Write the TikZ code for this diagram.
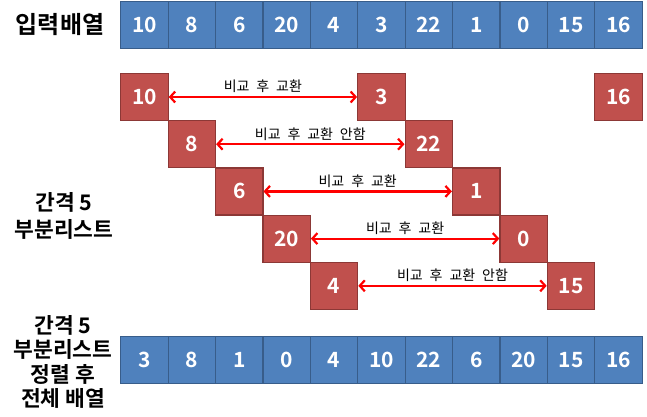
\documentclass[tikz,border=0pt]{standalone}
\usepackage{fontspec}
\setmainfont{Noto Sans CJK KR}[BoldFont={Noto Sans CJK KR Bold}]
\newfontfamily\krsmall[WordSpace=2.2]{Noto Sans CJK KR}
\usetikzlibrary{arrows.meta,positioning}
\definecolor{shellBlue}{RGB}{79,129,189}
\definecolor{shellBlueLine}{RGB}{56,93,138}
\definecolor{shellRed}{RGB}{192,80,77}
\definecolor{shellRedLine}{RGB}{140,56,54}

\begin{document}
\begin{tikzpicture}[
  x=1pt,y=-1pt,
  cell/.style={
    draw=shellBlueLine,
    fill=shellBlue,
    line width=1.2pt,
    minimum width=47.4pt,
    minimum height=47pt,
    inner sep=0pt,
    text=white,
    font=\bfseries\fontsize{21}{21}\selectfont
  },
  pick/.style={cell,draw=shellRedLine,fill=shellRed},
  swap/.style={
    draw=red,
    line width=2.2pt,
    {Straight Barb[length=5pt,width=11pt]}-{Straight Barb[length=5pt,width=11pt]}
  },
  note/.style={above=2pt,inner sep=1pt,font=\krsmall\fontsize{14}{14}\selectfont},
  head/.style={align=center,font=\bfseries\fontsize{21}{25}\selectfont}
]
  \useasboundingbox (0,0) rectangle (647,416);

  % input array
  \node[head,font=\bfseries\fontsize{24}{24}\selectfont] (inLabel) at (60,25) {입력배열};
  \foreach \v [count=\i from 0] in {10,8,6,20,4,3,22,1,0,15,16}
    \node[cell] (in\i) at ({144.4+47.4*\i},25) {\v};

  % gap-5 sublists
  \node[head,font=\bfseries\fontsize{21.5}{27}\selectfont] (subLabel) at (64,216) {간격 5\\부분리스트};
  \foreach \a/\b/\txt [count=\r from 0] in {
      10/3/비교 후 교환,
      8/22/비교 후 교환 안함,
      6/1/비교 후 교환,
      20/0/비교 후 교환,
      4/15/비교 후 교환 안함}
  {
    \node[pick] (left\r) at ({144.4+47.4*\r},{97+47.2*\r}) {\a};
    \node[pick] (right\r) at ({144.4+47.4*(\r+5)},{97+47.2*\r}) {\b};
    \draw[swap] (left\r) -- node[note] {\txt} (right\r);
  }
  \node[pick] (rest) at ({144.4+47.4*10},97) {16};

  % array after sorting the sublists
  \node[head,font=\bfseries\fontsize{21.5}{24.5}\selectfont] (outLabel) at (63,362)
    {간격 5\\부분리스트\\정렬 후\\전체 배열};
  \foreach \v [count=\i from 0] in {3,8,1,0,4,10,22,6,20,15,16}
    \node[cell] (out\i) at ({144.4+47.4*\i},360) {\v};
\end{tikzpicture}
\end{document}
